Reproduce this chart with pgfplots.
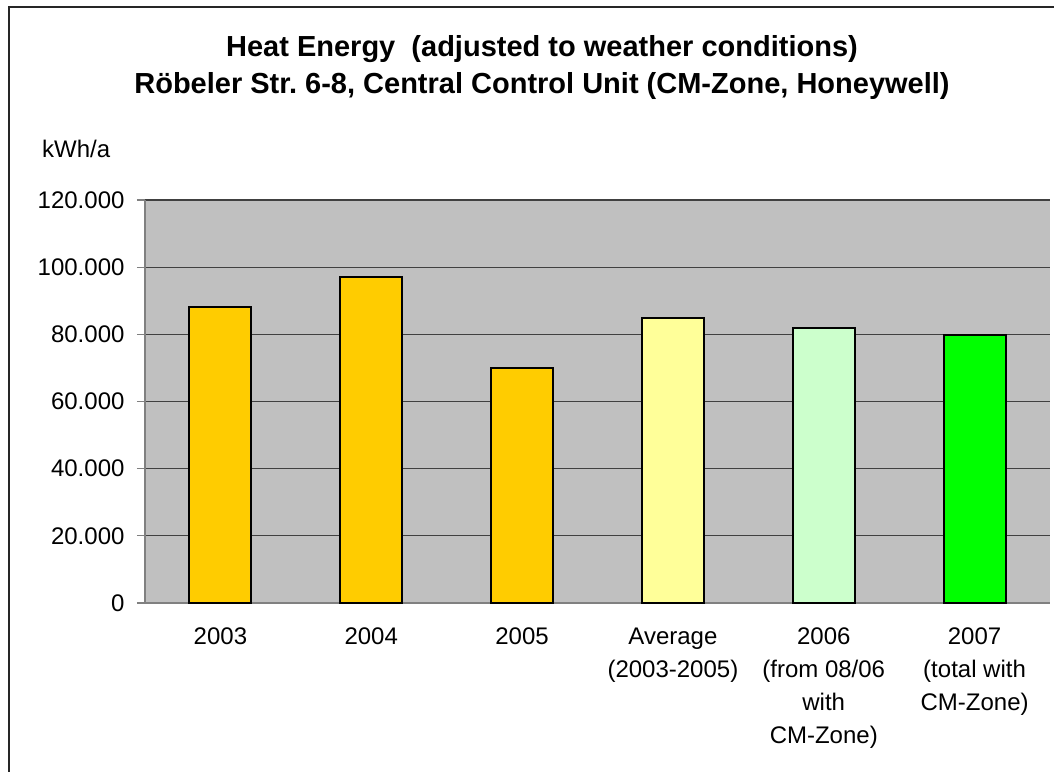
\documentclass[border=0pt]{standalone}
\usepackage{fontspec}
\setmainfont{Liberation Sans}
\usepackage{pgfplots}
\pgfplotsset{compat=1.18}
\definecolor{areagray}{HTML}{C0C0C0}
\definecolor{gridgray}{HTML}{404040}
\definecolor{axisgray}{HTML}{808080}
\definecolor{barorange}{HTML}{FFCC00}
\definecolor{baryellow}{HTML}{FFFF99}
\definecolor{barmint}{HTML}{CCFFCC}
\definecolor{bargreen}{HTML}{00FF00}
\frenchspacing
\begin{document}
\begin{tikzpicture}
\useasboundingbox (0pt,0pt) rectangle (1054pt,771pt);
\draw[line width=2pt, black!85] (9pt,-30pt) rectangle (1100pt,764pt);
\node[font=\bfseries\fontsize{29}{34}\selectfont] at (542pt,722pt) {Heat Energy\ \ (adjusted to weather conditions)};
\node[font=\bfseries\fontsize{29}{34}\selectfont] at (542pt,685pt) {Röbeler Str.\ 6-8, Central Control Unit (CM-Zone, Honeywell)};
\node[font=\fontsize{24}{28}\selectfont, anchor=west, inner sep=0pt] at (42pt,622pt) {kWh/a};
\begin{axis}[
  at={(145pt,168pt)}, anchor=south west,
  scale only axis, width=905pt, height=403pt,
  xmin=-0.5, xmax=5.5, ymin=0, ymax=120000,
  axis background/.style={fill=areagray},
  axis lines=left, axis line style={-, axisgray, line width=1.2pt},
  ytick={0,20000,40000,60000,80000,100000,120000},
  yticklabels={0,{20.000},{40.000},{60.000},{80.000},{100.000},{120.000}},
  scaled y ticks=false,
  ymajorgrids, grid style={gridgray, line width=1.3pt},
  tick align=outside, tick style={axisgray, line width=1.2pt},
  major tick length=8pt, minor tick length=8pt,
  xtick={0,...,5}, xtick style={draw=none},
  minor xtick={-0.5,0.5,...,5.5},
  xticklabels={2003,2004,2005,{Average\\(2003-2005)},{2006\\(from 08/06\\with\\CM-Zone)},{2007\\(total with\\CM-Zone)}},
  xticklabel style={align=center, font=\fontsize{24}{33}\selectfont, yshift=-13pt},
  yticklabel style={font=\fontsize{24}{28}\selectfont, xshift=-9pt},
]
\addplot[ybar, bar width=62pt, bar shift=0pt, fill=barorange, draw=black, line width=2pt] coordinates {(0,88000) (1,97000) (2,70000)};
\addplot[ybar, bar width=62pt, bar shift=0pt, fill=baryellow, draw=black, line width=2pt] coordinates {(3,85000)};
\addplot[ybar, bar width=62pt, bar shift=0pt, fill=barmint, draw=black, line width=2pt] coordinates {(4,82000)};
\addplot[ybar, bar width=62pt, bar shift=0pt, fill=bargreen, draw=black, line width=2pt] coordinates {(5,79700)};
\end{axis}
\end{tikzpicture}
\end{document}
